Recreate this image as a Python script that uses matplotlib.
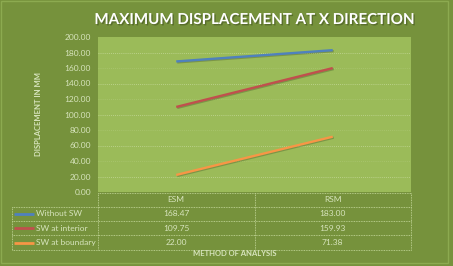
import numpy as np
import matplotlib
matplotlib.use('Agg')
import matplotlib.pyplot as plt
import matplotlib.patheffects as pe

plt.rcParams['font.family'] = ['Lato', 'DejaVu Sans']

methods = ['ESM', 'RSM']
series_names = ['Without SW', 'SW at interior', 'SW at boundary']
without_sw = [168.47, 183.00]
sw_interior = [109.75, 159.93]
sw_boundary = [22.00, 71.38]
series_values = [without_sw, sw_interior, sw_boundary]
series_colors = ['#4F81BD', '#C0504D', '#F79646']
yticks = np.arange(0, 201, 20)

outer_bg = '#76923C'
plot_bg = '#9BBB59'
text_col = '#D7E4BD'
grid_col = '#C9DCA0'

W, H = 453, 266
fig = plt.figure(figsize=(W / 100, H / 100), dpi=100)
fig.patch.set_facecolor(outer_bg)

# main plot area in pixel units
l, r, t, b = 98, 411, 37, 192
ax = fig.add_axes([l / W, 1 - b / H, (r - l) / W, (b - t) / H])
ax.set_facecolor(plot_bg)
x = np.arange(len(methods))
for vals, c in zip(series_values, series_colors):
    ax.plot(x, vals, color=c, lw=1.7, solid_capstyle='butt',
            path_effects=[pe.SimpleLineShadow(offset=(0.7, -0.7), alpha=0.2), pe.Normal()])
ax.set_xlim(-0.5, 1.5)
ax.set_ylim(0, 200)
ax.set_yticks(yticks)
ax.set_yticklabels(['%.2f' % v for v in yticks], fontsize=6, color=text_col)
ax.tick_params(axis='y', length=0, pad=5)
ax.set_xticks([])
for i, v in enumerate(yticks[1:-1]):
    ax.axhline(v, color=grid_col, lw=0.6, ls=(0, (1, 1.5)),
               alpha=0.9 if i % 2 == 0 else 0.35, zorder=0)
for s in ax.spines.values():
    s.set_visible(False)

ax.set_ylabel('DISPLACEMENT IN MM', fontsize=5.5, color=text_col, fontweight='bold', labelpad=16)

# overlay axes in pixel coordinates for title and data table
ov = fig.add_axes([0, 0, 1, 1])
ov.set_xlim(0, W)
ov.set_ylim(H, 0)
ov.axis('off')
ov.patch.set_alpha(0)

ov.add_patch(plt.Rectangle((1, 1), 447, 262, fill=False, ec='#8CAA50', lw=1))

ov.text(255, 20, 'MAXIMUM DISPLACEMENT AT X DIRECTION', fontsize=10.9, fontweight='bold',
        color='white', ha='center', va='center',
        path_effects=[pe.withSimplePatchShadow(offset=(1, -1), shadow_rgbFace='#3C4A1E', alpha=0.5)])

# data table
row_h = 14.3
top = 192.5
lc = 12
col_w = (r - l) / len(methods)
ls = (0, (1, 1))
lk = dict(color=grid_col, lw=0.6, ls=ls)
ov.plot([l, r], [top, top], **lk)
for k in range(1, 4 + 1):
    y = top + k * row_h
    ov.plot([lc, r], [y, y], **lk)
ov.plot([lc, lc], [top + row_h, top + 4 * row_h], **lk)
ov.plot([l, l], [top, top + 4 * row_h], **lk)
ov.plot([l + col_w, l + col_w], [top, top + 4 * row_h], **lk)
ov.plot([r, r], [top, top + 4 * row_h], **lk)

for j, m in enumerate(methods):
    ov.text(l + col_w * (j + 0.5), top + row_h * 0.5, m, fontsize=6, color=text_col,
            ha='center', va='center')
for i, (name, vals, c) in enumerate(zip(series_names, series_values, series_colors)):
    yc = top + row_h * (i + 1.5)
    ov.plot([14, 34], [yc, yc], color=c, lw=2, solid_capstyle='butt')
    ov.text(36, yc, name, fontsize=6, color=text_col, ha='left', va='center')
    for j, v in enumerate(vals):
        ov.text(l + col_w * (j + 0.5), yc, '%.2f' % v, fontsize=6, color=text_col,
                ha='center', va='center')

ov.text(235, 253, 'METHOD OF ANALYSIS', fontsize=5.5, fontweight='bold', color=text_col,
        ha='center', va='center')

fig.savefig('out.png', dpi=100, facecolor=outer_bg)
